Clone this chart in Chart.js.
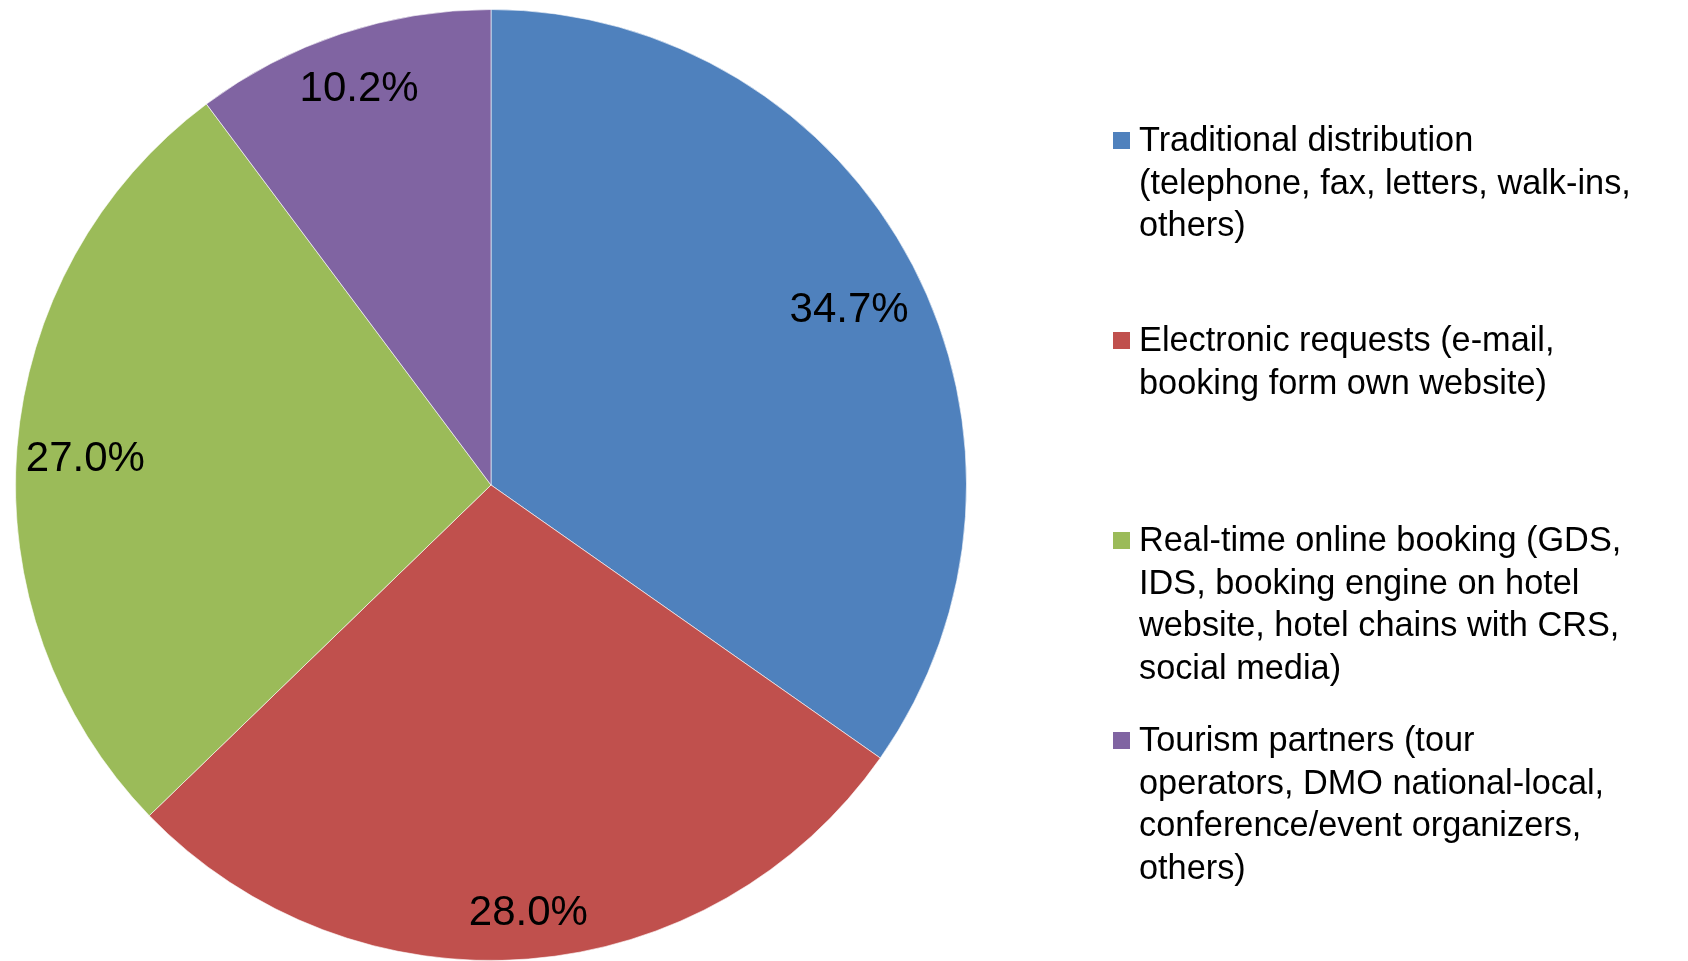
<!DOCTYPE html>
<html>
<head>
<meta charset="utf-8">
<script src="https://cdn.jsdelivr.net/npm/chart.js@4"></script>
<style>
html,body{margin:0;padding:0;background:#fff;}
#wrap{width:1688px;height:961px;position:relative;}
</style>
</head>
<body>
<div id="wrap"><canvas id="c" width="1688" height="961"></canvas></div>
<script>
const categories = [
  ["Traditional distribution", "(telephone, fax, letters, walk-ins,", "others)"],
  ["Electronic requests (e-mail,", "booking form own website)"],
  ["Real-time online booking (GDS,", "IDS, booking engine on hotel", "website, hotel chains with CRS,", "social media)"],
  ["Tourism partners (tour", "operators, DMO national-local,", "conference/event organizers,", "others)"]
];
const shares = [34.7, 28.0, 27.0, 10.2];
const valueLabels = ["34.7%", "28.0%", "27.0%", "10.2%"];
const colors = ["#4F81BD", "#C0504D", "#9BBB59", "#8064A2"];

// label placement style (fraction of radius, angular nudge in degrees)
const labelRadiusFrac = [0.84, 0.90, 0.855, 0.88];
const labelAngleNudge = [1.2, -0.5, -0.7, 0];
const FONT = "'Liberation Sans', Arial, sans-serif";

const valueLabelPlugin = {
  id: 'valueLabels',
  afterDatasetsDraw(chart) {
    const ctx = chart.ctx;
    const meta = chart.getDatasetMeta(0);
    ctx.save();
    ctx.font = "42px " + FONT;
    ctx.fillStyle = "#000";
    ctx.textAlign = "center";
    ctx.textBaseline = "middle";
    meta.data.forEach((arc, i) => {
      const p = arc.getProps(['x','y','startAngle','endAngle','outerRadius'], true);
      const mid = (p.startAngle + p.endAngle) / 2 + labelAngleNudge[i] * Math.PI / 180;
      const r = p.outerRadius * labelRadiusFrac[i];
      ctx.fillText(valueLabels[i], p.x + Math.cos(mid) * r, p.y + Math.sin(mid) * r + 2);
    });
    ctx.restore();
  }
};

const legendPlugin = {
  id: 'sideLegend',
  afterDraw(chart) {
    const ctx = chart.ctx;
    const labels = chart.data.labels;
    const bg = chart.data.datasets[0].backgroundColor;
    const x0 = 1113, textX = 1139, firstBaseline = 151, itemStep = 200, lineH = 42.5, box = 17;
    ctx.save();
    ctx.font = "34.3px " + FONT;
    ctx.textAlign = "left";
    ctx.textBaseline = "alphabetic";
    labels.forEach((lines, i) => {
      const base = firstBaseline + i * itemStep;
      ctx.fillStyle = bg[i];
      ctx.fillRect(x0, base - 19, box, box);
      ctx.fillStyle = "#000";
      lines.forEach((ln, j) => ctx.fillText(ln, textX, base + j * lineH));
    });
    ctx.restore();
  }
};

new Chart(document.getElementById('c'), {
  type: 'pie',
  data: {
    labels: categories,
    datasets: [{
      data: shares,
      backgroundColor: colors,
      borderColor: "rgba(255,255,255,0.6)",
      borderWidth: 1
    }]
  },
  options: {
    responsive: false,
    animation: false,
    layout: { padding: { top: 9, bottom: 0, left: 15, right: 721 } },
    plugins: {
      legend: { display: false },
      tooltip: { enabled: false }
    }
  },
  plugins: [valueLabelPlugin, legendPlugin]
});
</script>
</body>
</html>
